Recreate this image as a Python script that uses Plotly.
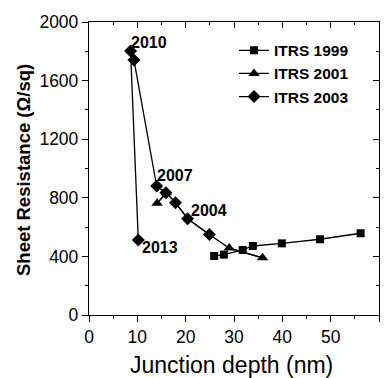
import plotly.graph_objects as go

# ITRS 1999 (squares)
x1999 = [25.9, 27.9, 31.8, 33.9, 39.9, 47.8, 56.2]
y1999 = [403, 412, 444, 471, 489, 517, 558]
# ITRS 2001 path (line) and its marked points (triangles)
x2001_path = [14.1, 16.0, 17.9, 20.4, 24.9, 29.0, 35.9]
y2001_path = [762, 835, 767, 657, 550, 457, 390]
x2001 = [14.1, 16.0, None, 29.0, 35.9]
y2001 = [762, 835, None, 457, 390]
# ITRS 2003 (diamonds), in roadmap-year order
x2003 = [10.2, 8.6, 9.3, 14.0, 15.9, 17.9, 20.4, 24.9]
y2003 = [512, 1802, 1741, 880, 835, 767, 657, 550]

year_labels = ["2010", "2007", "2004", "2013"]
label_x = [8.3, 13.7, 20.7, 10.6]
label_y = [1860, 950, 710, 464]

x_ticks = [0, 10, 20, 30, 40, 50, 60]
y_ticks = [0, 400, 800, 1200, 1600, 2000]

FONT = "Arial, Liberation Sans, sans-serif"
fig = go.Figure()
fig.add_trace(go.Scatter(x=x1999, y=y1999, mode="lines+markers", name="<b>ITRS 1999</b>",
                         xaxis="x2", yaxis="y2",
                         line=dict(color="black", width=1.3),
                         marker=dict(symbol="square", size=8, color="black")))
fig.add_trace(go.Scatter(x=x2001_path, y=y2001_path, mode="lines", showlegend=False,
                         legendgroup="2001", line=dict(color="black", width=1.3)))
fig.add_trace(go.Scatter(x=x2001, y=y2001, mode="lines+markers", name="<b>ITRS 2001</b>",
                         legendgroup="2001", connectgaps=False,
                         line=dict(color="black", width=1.3),
                         marker=dict(symbol="triangle-up", size=10, color="black")))
fig.add_trace(go.Scatter(x=x2003, y=y2003, mode="lines+markers", name="<b>ITRS 2003</b>",
                         line=dict(color="black", width=1.3),
                         marker=dict(symbol="diamond", size=10, color="black")))

for t, lx, ly in zip(year_labels, label_x, label_y):
    fig.add_annotation(x=lx, y=ly, text="<b>" + t + "</b>", showarrow=False,
                       xanchor="left", yanchor="middle",
                       font=dict(family=FONT, size=16, color="black"))

fig.add_annotation(x=-0.224, y=0.495, xref="paper", yref="paper", textangle=-90,
                   text="<b>Sheet Resistance (Ω/sq)</b>", showarrow=False,
                   xanchor="center", yanchor="middle",
                   font=dict(family=FONT, size=18.5, color="black"))
fig.add_annotation(x=0.493, y=-0.171, xref="paper", yref="paper",
                   text="Junction depth (nm)", showarrow=False,
                   xanchor="center", yanchor="middle",
                   font=dict(family=FONT, size=23, color="black"))

axis_common = dict(showline=True, linecolor="black", linewidth=1.3, showgrid=False,
                   zeroline=False, tickcolor="black", tickwidth=1.3)
fig.update_layout(
    width=388, height=378,
    margin=dict(l=89, r=9, t=22, b=63),
    paper_bgcolor="white", plot_bgcolor="white",
    font=dict(family=FONT, color="black"),
    xaxis=dict(range=[0, 60], tickvals=x_ticks, ticks="outside", ticklen=6,
               minor=dict(ticks="outside", ticklen=3, dtick=5, tickcolor="black", tickwidth=1.3),
               tickfont=dict(size=17.5), **axis_common),
    yaxis=dict(range=[0, 2000], tickvals=y_ticks, ticks="outside", ticklen=6,
               minor=dict(ticks="outside", ticklen=3, dtick=200, tickcolor="black", tickwidth=1.3),
               tickfont=dict(size=17.5), **axis_common),
    xaxis2=dict(range=[0, 60], overlaying="x", side="top", anchor="y", tickvals=x_ticks,
                ticks="inside", ticklen=6, showticklabels=False,
                minor=dict(ticks="inside", ticklen=3, dtick=5, tickcolor="black", tickwidth=1.3),
                **axis_common),
    yaxis2=dict(range=[0, 2000], overlaying="y", side="right", anchor="x", tickvals=y_ticks,
                ticks="inside", ticklen=6, showticklabels=False,
                minor=dict(ticks="inside", ticklen=3, dtick=200, tickcolor="black", tickwidth=1.3),
                **axis_common),
    legend=dict(x=0.5, y=0.96, xanchor="left", yanchor="top", bgcolor="rgba(0,0,0,0)",
                font=dict(size=15.5), tracegroupgap=0, itemwidth=30, traceorder="normal"),
    showlegend=True,
)
fig.write_html("out.html")
